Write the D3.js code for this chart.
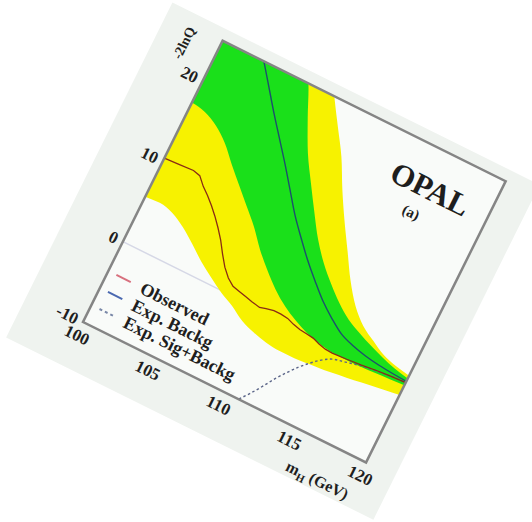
<!DOCTYPE html>
<html>
<head>
<meta charset="utf-8">
<script src="https://cdn.jsdelivr.net/npm/d3@7"></script>
<style>
  html, body { margin: 0; padding: 0; background: #ffffff; }
  svg { display: block; }
  text { font-family: "Liberation Serif", "DejaVu Serif", serif; font-weight: bold; fill: #1e1e1e; }
</style>
</head>
<body>
<svg id="chart" width="532" height="522"></svg>
<script>
// ---- data ----
const bandMass    = [100,101,102,103,104,105,106,107,108,109,110,111,112,113,114,115,116,117,118,119,120];
const yellowUpper = [50,47,44,41,38,34.5,31,27.6,24.7,22,19.3,16.0,13.0,10.2,7.4,5.1,3.5,2.5,1.6,1.1,0.8];
const greenUpper  = [40,37.5,35,32.5,30,27.6,25.2,21.5,18.0,15.2,12.5,9.9,7.8,6.1,4.6,3.4,2.6,1.9,1.3,0.8,0.45];
const greenLower  = [17.3,17.0,16.2,14.9,13.1,11.4,9.7,8.0,6.0,4.3,2.8,1.6,0.7,0.0,-0.45,-0.7,-0.75,-0.7,-0.6,-0.5,-0.4];
const yellowLower = [5.6,5.7,5.3,4.4,3.2,1.9,0.8,-0.2,-1.0,-2.0,-2.6,-3.0,-3.15,-3.15,-3.0,-2.85,-2.6,-2.4,-2.1,-1.85,-1.6];
const expBackg    = [31,29,27,24.8,22.5,20.2,18,15.8,13.5,11.2,9.2,7.3,5.6,4.0,2.7,1.6,1.0,0.6,0.35,0.2,0.1];

const obsMass = [100,101,102,102.5,103,103.5,104,104.5,105,105.5,106,106.5,107,107.5,108,108.5,109,109.6,110,110.5,111,111.5,112,112.5,113,113.5,114,114.5,115,116,117,118,119,120];
const obsVal  = [10.4,10.5,10.6,10.4,9.5,8.8,8.0,7.1,6.1,5.0,3.7,2.5,1.6,1.0,0.8,0.6,0.4,0.2,0.4,0.6,0.6,0.5,0.2,0.0,-0.1,-0.2,-0.5,-0.7,-0.75,-0.65,-0.5,-0.3,-0.15,-0.05];

const sigMass = [110.6,111.5,112,112.5,113,113.5,114,114.5,115,116,117,118,119,120];
const sigVal  = [-10.8,-8.8,-7.5,-6.1,-4.9,-3.8,-2.9,-2.1,-1.5,-1.0,-0.6,-0.35,-0.15,-0.05];

const xTicks = [100,105,110,115,120];
const yTicks = [-10,0,10,20];
const legendLabels = ["Observed","Exp. Backg","Exp. Sig+Backg"];

// ---- layout ----
const W = 316, H = 314;
const svg = d3.select("#chart");
const root = svg.append("g").attr("transform","translate(83,322) rotate(26.4)");

const x = d3.scaleLinear().domain([100,120]).range([0,W]);
const y = d3.scaleLinear().domain([-10,25]).range([0,-H]);

// paper
root.append("rect").attr("x",-62).attr("y",-326).attr("width",410).attr("height",374)
  .attr("fill","#eff3ef");
// plot background
root.append("rect").attr("x",0).attr("y",-H).attr("width",W).attr("height",H)
  .attr("fill","#f9fbf9");

svg.append("defs").append("clipPath").attr("id","plotclip")
  .append("rect").attr("x",0).attr("y",-H).attr("width",W).attr("height",H);

const plot = root.append("g").attr("clip-path","url(#plotclip)");

// faint zero line
plot.append("line").attr("x1",x(100)).attr("x2",x(120)).attr("y1",y(0)).attr("y2",y(0))
  .attr("stroke","#d6d8e6").attr("stroke-width",1.5);

const band = (lo, hi) => d3.area()
  .x((d,i)=>x(bandMass[i]))
  .y0((d,i)=>y(lo[i]))
  .y1((d,i)=>y(hi[i]))
  .curve(d3.curveMonotoneX)(bandMass);

plot.append("path").attr("d", band(yellowLower, yellowUpper)).attr("fill","#f7f200");
plot.append("path").attr("d", band(greenLower, greenUpper)).attr("fill","#1ae01a");

const lineGen = (xs, ys, curve) => d3.line().x((d,i)=>x(xs[i])).y((d,i)=>y(ys[i])).curve(curve)(xs);

plot.append("path").attr("d", lineGen(bandMass, expBackg, d3.curveMonotoneX))
  .attr("fill","none").attr("stroke","#1d4f6e").attr("stroke-width",1.4);
plot.append("path").attr("d", lineGen(sigMass, sigVal, d3.curveMonotoneX))
  .attr("fill","none").attr("stroke","#5a6488").attr("stroke-width",1.4).attr("stroke-dasharray","2.5,2.5");
plot.append("path").attr("d", lineGen(obsMass, obsVal, d3.curveLinear))
  .attr("fill","none").attr("stroke","#8a2c14").attr("stroke-width",1.3);

// frame
root.append("rect").attr("x",0).attr("y",-H).attr("width",W).attr("height",H)
  .attr("fill","none").attr("stroke","#858585").attr("stroke-width",2.5);

// axes
const fmt = d => String(d);
const xa = root.append("g").call(d3.axisBottom(x).tickValues(xTicks).tickSize(0).tickPadding(8).tickFormat(fmt));
xa.select(".domain").remove();
xa.selectAll("text").attr("font-size",17).attr("fill","#1e1e1e")
  .style("font-family","'Liberation Serif', serif").style("font-weight","bold");

const ya = root.append("g").call(d3.axisLeft(y).tickValues(yTicks).tickSize(0).tickPadding(6).tickFormat(fmt));
ya.select(".domain").remove();
ya.selectAll("text").attr("font-size",17).attr("fill","#1e1e1e")
  .style("font-family","'Liberation Serif', serif").style("font-weight","bold");

// axis titles
root.append("text").attr("transform","translate(-29,-312) rotate(-90)")
  .attr("text-anchor","end").attr("font-size",14).text("-2lnQ");

const xt = root.append("text").attr("x",W-2).attr("y",43).attr("text-anchor","end").attr("font-size",16);
xt.append("tspan").text("m");
xt.append("tspan").attr("font-size",11).attr("dy",4).text("H");
xt.append("tspan").attr("dy",-4).text(" (GeV)");

// labels
root.append("text").attr("x",252).attr("y",-263).attr("text-anchor","middle").attr("font-size",31).text("OPAL");
root.append("text").attr("x",245).attr("y",-239).attr("text-anchor","middle").attr("font-size",15).text("(a)");

// legend
const legRows = [57,38,19];
const legStyles = [
  {stroke:"#d8707e", dash:null},
  {stroke:"#4a68b0", dash:null},
  {stroke:"#7a88a8", dash:"3,3"}
];
legendLabels.forEach((lab,i)=>{
  root.append("line").attr("x1",9).attr("x2",25).attr("y1",-legRows[i]).attr("y2",-legRows[i])
    .attr("stroke",legStyles[i].stroke).attr("stroke-width",2)
    .attr("stroke-dasharray",legStyles[i].dash);
  root.append("text").attr("x",37).attr("y",-legRows[i]+6).attr("font-size",18).text(lab);
});
</script>
</body>
</html>
